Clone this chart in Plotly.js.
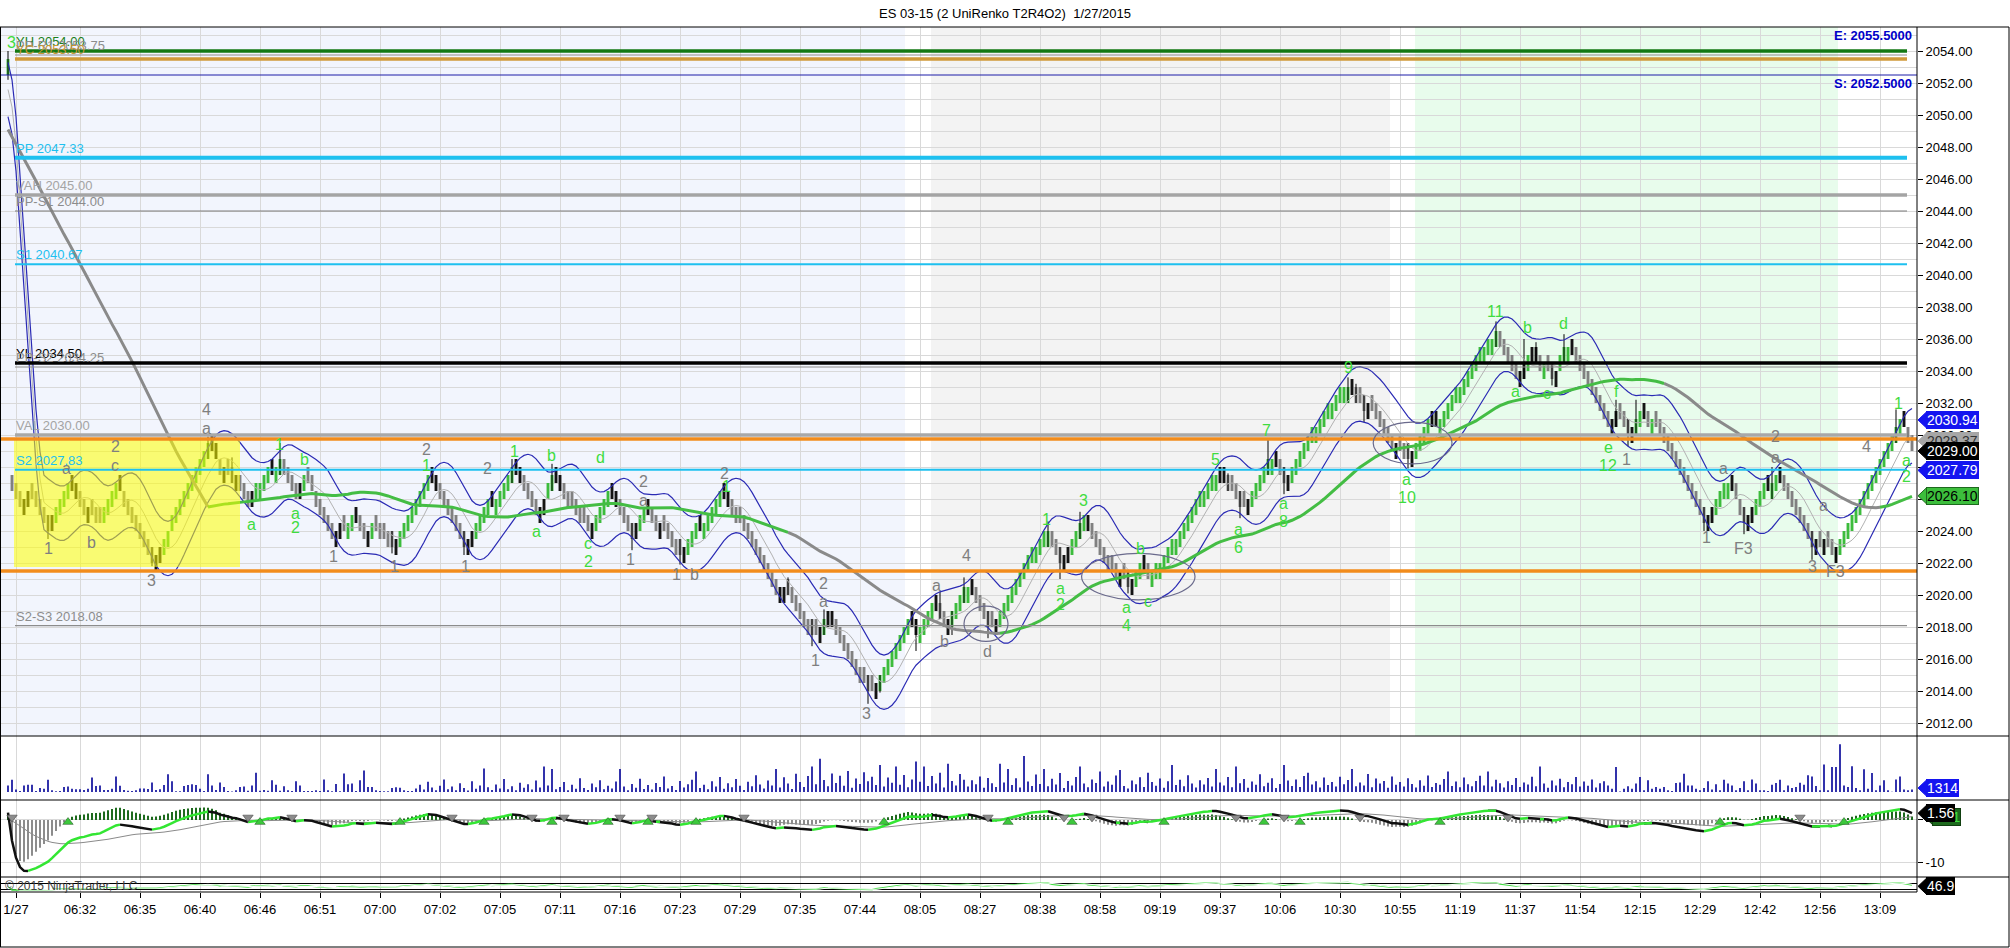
<!DOCTYPE html>
<html>
<head>
<meta charset="utf-8">
<script src="https://cdn.plot.ly/plotly-3.0.1.min.js"></script>
<style>
  html, body { margin: 0; padding: 0; background: #fff; }
  #chart { width: 2010px; height: 948px; }
</style>
</head>
<body>
<div id="chart"></div>
<script>
// ---------------- data ----------------
// UniRenko closes, one per bar (bar 0 = last bar of the prior session)
const closes = [
  2053.5,
  2026.5, 2026, 2025.5, 2026, 2026.5, 2026, 2025.5,
  2025, 2024.5, 2024,
  2025, 2025.5, 2026, 2026.5, 2027,
  2026.5, 2026, 2025.5, 2025, 2025.5, 2025, 2024.5, 2024.5,
  2025.5, 2026, 2026.5, 2027,
  2026.5, 2025.5, 2025, 2024.5, 2024, 2023.5, 2023, 2022.5, 2022,
  2022.5, 2023, 2023.5, 2024, 2025, 2025.5, 2026, 2026.5, 2027, 2027.5, 2028, 2028.5, 2029, 2029.5,
  2029, 2028.5, 2027.5, 2028, 2027.5, 2027, 2027.5, 2026.5,
  2026, 2025.5, 2026.5, 2027, 2027, 2027.5, 2028, 2027.5, 2028, 2028.5, 2027.5, 2027, 2026.5, 2026, 2027, 2027.5,
  2027, 2026.5, 2025.5, 2025, 2024.5, 2024, 2023.5,
  2024, 2024.5, 2024, 2024.5, 2025, 2024.5, 2024, 2023.5, 2024, 2024.5, 2024, 2023.5, 2023.5, 2023, 2023,
  2023.5, 2024, 2024.5, 2025, 2025.5, 2026, 2026.5, 2027, 2027.5,
  2027, 2026.5, 2026, 2025.5, 2025, 2024.5, 2024, 2023.5, 2023,
  2023.5, 2024, 2024.5, 2025, 2025.5, 2026,
  2025.5, 2026, 2026.5, 2027, 2027.5, 2028,
  2027.5, 2027, 2026.5, 2026, 2025.5, 2025,
  2025.5, 2026, 2027, 2027.5,
  2027, 2026.5, 2026, 2025.5, 2025.5, 2025, 2024.5,
  2024.5, 2024, 2024.5, 2025, 2025.5, 2026, 2026.5,
  2026, 2025.5, 2025, 2024.5, 2024, 2023.5,
  2024.5, 2025, 2025.5,
  2025, 2024.5, 2024, 2024.5, 2024, 2023.5, 2023, 2022.5, 2022.5,
  2023, 2023.5, 2024, 2024.5, 2024, 2024.5, 2025, 2025.5, 2026, 2026.5, 2026,
  2025.5, 2025, 2024.5, 2024.5, 2024, 2023.5, 2023, 2022.5, 2022, 2021.5, 2021, 2020.5, 2020,
  2020.5, 2020.5, 2020, 2019.5,
  2019, 2018.5, 2018, 2017.5, 2017.5, 2017.5,
  2018, 2018.5, 2018, 2018,
  2017.5, 2017, 2016.5, 2016, 2015.5, 2015, 2014.5, 2014.5, 2014,
  2014,
  2014.5, 2015, 2015.5, 2016, 2016.5, 2017,
  2017.5, 2018, 2018.5, 2018, 2017.5, 2018,
  2018.5, 2019, 2019.5,
  2019, 2018.5, 2018,
  2018.5, 2019, 2019.5, 2020, 2020.5, 2020.5,
  2020, 2019.5, 2019, 2018.5, 2018, 2018,
  2018.5, 2019, 2019.5, 2020, 2020.5, 2021, 2021.5,
  2022, 2022.5, 2023, 2023, 2023.5, 2024, 2024,
  2023, 2022.5, 2022,
  2022.5, 2023, 2023.5, 2024, 2024.5, 2025,
  2024, 2023.5, 2023, 2022.5,
  2022, 2021.5, 2021.5, 2021, 2021.5, 2021, 2020.5, 2021, 2021.5, 2022, 2021.5, 2021, 2021.5, 2022, 2022,
  2022.5, 2023, 2023.5, 2023.5, 2024, 2024.5, 2025, 2025.5, 2026, 2026.5, 2026.5, 2027, 2027.5, 2027.5,
  2027, 2027, 2026.5, 2026.5,
  2026, 2025.5, 2025.5,
  2026, 2026.5, 2027, 2027.5, 2028, 2028.5, 2028.5,
  2028, 2027.5, 2027, 2027.5,
  2028, 2028.5, 2029, 2029.5, 2030, 2030.5, 2030.5, 2031, 2031.5, 2032, 2032, 2032.5, 2033, 2033, 2033,
  2032.5, 2032, 2032, 2031.5, 2032, 2031.5,
  2031, 2030.5, 2030, 2029.5, 2029,
  2029.5, 2029, 2028.5, 2028.5, 2029, 2029.5,
  2030, 2030.5, 2031, 2030.5, 2030.5, 2031,
  2031.5, 2032, 2032.5, 2033, 2033, 2033.5, 2034, 2034.5, 2035, 2035.5, 2035.5, 2036, 2036, 2036.5,
  2035.5, 2035,
  2034.5, 2034, 2033.5, 2034, 2034.5, 2035, 2034.5, 2034.5, 2034, 2034.5, 2034, 2033.5, 2034,
  2035, 2035.5, 2035.5, 2035,
  2034.5, 2034,
  2033.5, 2033, 2032.5, 2032, 2031.5, 2031, 2030.5,
  2031, 2031.5, 2031, 2030.5, 2030, 2030.5, 2031, 2031.5, 2031, 2030.5, 2031, 2030.5, 2030,
  2029.5, 2029, 2028.5, 2028, 2027.5, 2027, 2026.5, 2026, 2025.5, 2025, 2024.5,
  2025, 2025.5, 2026, 2026.5, 2027, 2027,
  2026.5, 2026, 2025, 2024.5,
  2025, 2025.5, 2026,
  2026.5, 2027, 2026.5, 2027, 2027.5,
  2027, 2026.5, 2026, 2025.5, 2025, 2024.5, 2024, 2023.5, 2023,
  2023.5, 2023, 2023.5, 2023, 2022.5, 2023,
  2023.5, 2024, 2024.5,
  2025, 2025.5, 2026, 2026.5, 2027, 2027.5, 2028, 2028.5, 2029, 2029.5, 2030, 2030.5, 2031,
  2030.5, 2029.5, 2029
];

// wicks that stick out of the bodies (bar index, high, low)
const wickBars  = [0, 10, 36, 50, 56, 68, 96, 114, 126, 136, 156, 168, 195, 201, 204, 215, 218, 227, 233, 236, 239, 245, 260, 263, 268, 280, 305, 308, 315, 319, 335, 337, 339, 350, 356, 372, 379, 382, 386, 389, 402, 405, 407, 424, 434, 441, 451, 457, 472];
const wickHighs = [2054, null, null, 2029.9, 2028.6, 2029.5, null, null, 2028.5, 2028.2, null, null, 2021.1, null, 2019.1, null, null, null, 2020.2, null, 2021.1, null, 2024.6, null, 2025.2, null, 2027.6, null, 2029.7, null, 2033.6, 2033.2, null, null, 2031.5, 2037.1, 2036.0, 2035.8, null, 2036.3, 2032.2, null, 2032.2, null, null, 2028.0, null, null, 2031.6];
const wickLows  = [2052.2, 2023.5, 2021.8, null, null, null, 2022.6, 2022.5, null, null, 2022.8, 2021.9, null, 2016.8, null, 2013.2, 2013.9, 2016.5, null, 2017.5, null, 2017.3, null, 2021.0, null, 2020.1, null, 2024.8, null, 2026.3, null, null, 2030.8, 2027.9, null, null, null, null, 2033.1, null, null, 2029.3, null, 2024.0, 2023.8, null, 2022.2, 2022.0, null];

// volume per bar
const volume = [
  2200, 4100, 800, 350, 2200, 2400, 2400, 300, 1300, 1100,
  4100, 550, 250, 300, 1700, 1800, 1100, 900, 900, 650,
  1100, 4800, 2000, 2200, 650, 650, 1100, 5200, 2100, 650,
  450, 350, 550, 1200, 1200, 1000, 3200, 650, 900, 2300,
  5900, 3600, 250, 250, 2000, 2300, 2550, 2300, 1100, 350,
  5900, 2200, 650, 3200, 1700, 350, 150, 550, 1700, 1800,
  450, 2200, 6400, 450, 650, 450, 3900, 2400, 450, 1900,
  550, 350, 3600, 2200, 350, 350, 350, 550, 350, 4200,
  550, 250, 2650, 250, 6200, 2550, 2800, 350, 3900, 7200,
  1700, 1700, 550, 350, 250, 250, 1300, 1550, 1450, 550,
  350,
  300, 1200, 2400, 800, 3400, 1500, 600, 2100, 4200, 900,
  1800, 600, 2900, 1300, 500, 3600, 1100, 2200, 7800, 1600,
  700, 2500, 1200, 4300, 900, 1900, 600, 3100, 1400, 2600,
  800, 3800, 1500, 8500, 2200, 7700, 900, 1700, 3300, 600,
  2400, 1100, 4600, 1300, 700, 2800, 1600, 3900, 900, 2100,
  1200, 3500, 7700, 1800, 600, 2700, 1400, 4400, 1000, 2300,
  800, 3000, 1700, 5200, 1200, 2000, 700, 3700, 1500, 2600,
  4100, 6800, 1300, 2400, 900, 3600, 1800, 5000, 1100, 2900,
  1600, 4300, 2100, 700, 3400, 1900, 5600, 2500, 1200, 3800,
  2200, 7700, 1500, 4900, 2800, 1000, 6100, 3300, 1700, 5300,
  8500, 2600, 11100, 4000, 1900, 6200, 3000, 5400, 2100, 7000,
  1400, 4500, 2700, 6600, 3600, 5100, 2300, 9000, 1800, 4800,
  3100, 8500, 2400, 5700, 1600, 4200, 10200, 3400, 8500, 2000,
  5300, 2800, 6400, 1500, 9400, 3700, 2200, 6000, 4100, 1800,
  3900, 2600, 5200, 1400, 4700, 2900, 1700, 9400, 3200, 7700,
  2300, 4600, 1500, 12000, 3500, 2000, 5800, 2700, 7700, 1900,
  4400, 2500, 6300, 1300, 3700, 2200, 5000, 8500, 2800, 1600,
  4200, 3000, 6800, 1800, 3500, 2400, 5500, 7300, 2000, 1200,
  3800, 2600, 4900, 1700, 6400, 3300, 2100, 4500, 1400, 3600,
  9000, 2300, 4100, 1900, 5600, 2800, 1500, 3900, 2500, 4700,
  1800, 7700, 3200, 2200, 5000, 1600, 8500, 2900, 4300, 1400,
  3500, 2400, 5900, 1900, 3100, 4600, 1300, 2700, 9000, 3800,
  2000, 4200, 1700, 5300, 6400, 2500, 3600, 1500, 4800, 2300,
  3300, 1800, 5100, 2600, 4000, 7700, 1900, 3200, 2200, 6000,
  1600, 4500, 2800, 3700, 1400, 5200, 2400, 3300, 1800, 4600,
  2700, 1500, 3900, 2100, 5500, 1700, 3000, 2400, 4300, 6800,
  2000, 3500, 1600, 4800, 2600, 1900, 3700, 5400, 2200, 6800,
  1800, 4100, 2900, 1500, 3600, 2300, 4700, 1700, 3200, 2500,
  5100, 1900, 8500, 2800, 1400, 3800, 2200, 4400, 1600, 3300,
  2600, 5000, 1800, 3500, 2100, 4200, 1500, 2900,
  3550, 2200, 1100, 8300, 200, 1100, 1900, 1100, 2800, 5000,
  550, 3900, 1100, 1650, 1100, 1650, 550, 350, 3000, 3200,
  6100, 2200, 2200, 1100, 550, 1350, 3550, 800, 2550, 550,
  4100, 2800, 2200, 550, 1350, 3550, 550, 4200, 2800, 550,
  550, 350, 2450, 3000, 4100, 550, 2200, 1350, 1650, 3100,
  2450, 5550, 5200, 2000, 550, 9200, 550, 8300, 8300, 15900,
  2200, 1650, 8550, 1350, 550, 7550, 1100, 6300, 550, 2200,
  3900, 550, 100, 4200, 5200, 800, 550, 800
];

const tickLabels = ["1/27", "06:32", "06:35", "06:40", "06:46", "06:51", "07:00", "07:02", "07:05",
  "07:11", "07:16", "07:23", "07:29", "07:35", "07:44", "08:05", "08:27", "08:38", "08:58", "09:19",
  "09:37", "10:06", "10:30", "10:55", "11:19", "11:37", "11:54", "12:15", "12:29", "12:42", "12:56", "13:09"];

// horizontal levels drawn on the price panel
const levelValues = [2054.00, 2053.75, 2053.50, 2052.50, 2047.33, 2045.00, 2044.00, 2040.67, 2034.50, 2034.25, 2030.00, 2029.75, 2027.83, 2021.50, 2018.08];
const levelNames  = ["YH", "PP-R1", "YC", "", "PP", "VAH", "PP-S1", "S1", "YL", "PP-S2", "VAL", "", "S2", "", "S2-S3"];

// wave count labels (bar index, price, text, colour group)
const waveBars   = [0.75, 10.1, 14.7, 20.9, 26.75, 26.75, 35.9, 49.7, 49.7, 60.9, 67.9, 71.75, 71.75, 74, 81.3, 96.7, 104.7, 104.7, 114.3, 119.8, 126.5, 132, 135.8, 145, 145, 148, 155.7, 158.9, 158.9, 167, 171.5, 179, 179.6, 201.75, 203.8, 203.8, 214.7, 232, 234, 239.7, 244.8, 259.7, 263, 263, 268.8, 279.7, 279.7, 283, 285, 301.75, 307.6, 307.6, 314.7, 318.8, 318.8, 335, 349.7, 349.7, 371.9, 379.8, 376.75, 384.7, 388.8, 402.2, 400, 400, 404.7, 424.7, 428.8, 433.8, 441.75, 441.75, 451, 453.8, 456.75, 464.7, 472.6, 474.7, 474.7];
const wavePrices = [2054.55, 2022.9, 2027.9, 2023.3, 2029.3, 2028.1, 2020.9, 2031.6, 2030.4, 2024.4, 2029.4, 2025.1, 2024.2, 2028.5, 2022.4, 2021.8, 2029.1, 2028.1, 2021.8, 2027.9, 2029.0, 2024.0, 2028.75, 2023.2, 2022.1, 2028.6, 2022.25, 2027.1, 2025.9, 2021.3, 2021.3, 2027.6, 2026.8, 2015.9, 2020.7, 2019.6, 2012.6, 2020.6, 2017.1, 2022.5, 2016.5, 2024.7, 2020.4, 2019.4, 2025.9, 2019.2, 2018.1, 2022.9, 2019.6, 2028.5, 2024.1, 2023.0, 2030.3, 2025.7, 2024.6, 2034.2, 2027.2, 2026.1, 2037.7, 2036.7, 2032.7, 2032.6, 2037.0, 2032.7, 2029.2, 2028.1, 2028.5, 2023.6, 2027.9, 2022.9, 2029.9, 2028.6, 2021.8, 2025.6, 2021.5, 2029.3, 2032.0, 2028.4, 2027.4];
const waveTexts  = ["3", "1", "a", "b", "2", "c", "3", "4", "a", "a", "1", "a", "2", "b", "1", "1", "2", "1", "1", "2", "1", "a", "b", "c", "2", "d", "1", "2", "a", "1", "b", "2", "1", "1", "2", "a", "3", "a", "b", "4", "d", "1", "a", "2", "3", "a", "4", "b", "c", "5", "a", "6", "7", "a", "8", "9", "a", "10", "11", "b", "a", "c", "d", "f", "e", "12", "1", "1", "a", "F3", "2", "a", "3", "a", "F3", "4", "1", "a", "2"];
const waveGroups = ["g", "s", "s", "s", "s", "s", "s", "s", "s", "g", "g", "g", "g", "g", "s", "s", "s", "g", "s", "s", "g", "g", "g", "g", "g", "g", "s", "s", "s", "s", "s", "s", "g", "s", "s", "s", "s", "s", "s", "s", "s", "g", "g", "g", "g", "g", "g", "g", "g", "g", "g", "g", "g", "g", "g", "g", "g", "g", "g", "g", "g", "g", "g", "g", "g", "g", "s", "s", "s", "s", "s", "s", "s", "s", "s", "s", "g", "g", "g"];

// hand-drawn ellipses (bar range, price range)
const ellipseBars   = [[239, 250], [268.4, 296.75], [341.3, 361]];
const ellipsePrices = [[2017.1, 2019.3], [2019.7, 2022.6], [2028.2, 2030.8]];

// session shading (bar ranges)
const sessionStarts = [-1.75, 230.75, 351.75];
const sessionEnds   = [224.25, 345.5, 457.5];
const boxBars = [1.5, 58];          // yellow opening-range box
const boxPrices = [2021.75, 2029.75];

// indicator settings / readings
const bbPeriod = 7, bbSmooth = 3, bbSeed = 2051.5, bbOffset = 1.7;
const maPeriod = 50, maSeed = 2049.0;
const macdFast = 5, macdSlow = 20, macdSignal = 30, macdStartValue = 1.9;
const rsiPeriod = 14;

// value tags on the right-hand scale
const priceTagValues = [2030.94, 2029.62, 2029.0, 2027.79, 2026.2];
const priceTagTexts  = ["2030.94", "2029.37", "2029.00", "2027.79", "2026.10"];

// ---------------- geometry & styling ----------------
const FONT = "Liberation Sans, Arial, sans-serif";
const W = 2010, H = 948;
const M = {l: 1, r: 93, t: 27, b: 56};
const plotW = W - M.l - M.r, plotH = H - M.t - M.b;
const px = x => (x - M.l) / plotW;
const py = y => (H - M.b - y) / plotH;

const dMain = [py(736), 1], dVol = [py(800), py(736)], dMacd = [py(877), py(800)], dOsc = [0, py(877)];
const rMain = [2011.1875, 2055.5], rVol = [-2667, 18667], rMacd = [-13.35, 4.68], rOsc = [-10, 140];
const xRange = [-1.75, 477.25];

const GREEN_BAR = "#3cbc3c", GRAY_BAR = "#808080", BLACK_BAR = "#141414";
const WAVE_GREEN = "#3fdc3f", WAVE_GRAY = "#7f7f7f";
const levelColors = ["#137813", "#8c8c8c", "#d09a3a", "#1c1ca8", "#1ec0ef", "#a4a4a4", "#7c7c7c", "#1ec0ef", "#000000", "#8c8c8c", "#a8a8a8", "#f28c1c", "#1ec0ef", "#f28c1c", "#8c8c8c"];
const levelWidths = [3.5, 1, 3.5, 1, 4, 3.5, 1.2, 2, 3.5, 1, 3.5, 3.5, 2, 3.5, 1.2];
const levelTextColors = ["#1b7f1b", "#8c8c8c", "#c89632", "", "#1ec0ef", "#a4a4a4", "#8c8c8c", "#1ec0ef", "#000000", "#8c8c8c", "#a4a4a4", "", "#1ec0ef", "", "#8c8c8c"];
const sessionColors = ["#f2f5fd", "#f3f3f3", "#e8fcec"];

// ---------------- indicator helpers ----------------
function sma(vals, n, seed) {
  return vals.map((v, i) => {
    let s = 0;
    for (let j = i - n + 1; j <= i; j++) s += j < 0 ? seed : vals[j];
    return s / n;
  });
}
function ema(vals, n, seed) {
  const a = 2 / (n + 1);
  let e = seed;
  return vals.map(v => (e = e + a * (v - e)));
}
function rsi(vals, n) {
  let ag = 0.25, al = 0.25;
  return vals.map((v, i) => {
    if (i > 0) {
      const d = v - vals[i - 1];
      ag = (ag * (n - 1) + Math.max(d, 0)) / n;
      al = (al * (n - 1) + Math.max(-d, 0)) / n;
    }
    return 100 - 100 / (1 + ag / al);
  });
}
// splits a line into rising / falling pieces; a turn needs a slope past the threshold
function splitBySlope(vals, upEps, dnEps) {
  const up = vals.map(() => null), dn = vals.map(() => null);
  let state = -1;
  for (let i = 1; i < vals.length; i++) {
    const d = vals[i] - vals[i - 1];
    if (d > upEps) state = 1; else if (d < -dnEps) state = -1;
    const t = state > 0 ? up : dn;
    t[i - 1] = vals[i - 1]; t[i] = vals[i];
  }
  return {up, dn};
}

const N = closes.length;
const idx = closes.map((_, i) => i);

// renko bodies
const dir = [];
closes.forEach((c, i) => {
  const d = i === 0 ? 1 : Math.sign(c - closes[i - 1]);
  dir.push(d === 0 ? dir[i - 1] : d);
});
const bodyLo = closes.map((c, i) => dir[i] > 0 ? c - 1 : c);
const bodyHi = closes.map((c, i) => dir[i] > 0 ? c : c + 1);

const mid = sma(sma(closes, bbPeriod, bbSeed), bbSmooth, bbSeed);
const upper = mid.map(v => v + bbOffset);
const lower = mid.map(v => v - bbOffset);
const ma = sma(closes, maPeriod, maSeed);
const maSeg = splitBySlope(ma, 0.02, 0.1);

const barColors = closes.map((c, i) => {
  if (i === 0) return GREEN_BAR;
  if (dir[i] > 0) return c >= mid[i] ? GREEN_BAR : BLACK_BAR;
  return c <= mid[i] ? GRAY_BAR : BLACK_BAR;
});

const fastE = ema(closes, macdFast, closes[0]);
const slowE = ema(closes, macdSlow, closes[0] - macdStartValue);
const macd = fastE.map((v, i) => v - slowE[i]);
const signal = ema(macd, macdSignal, 0);
const hist = macd.map((v, i) => v - signal[i]);
const macdSeg = splitBySlope(macd, 0, 0);

const upTriX = [], dnTriX = [];
for (let i = 1; i < N; i++) {
  if (hist[i] > 0 && hist[i - 1] <= 0) upTriX.push(i);
  if (hist[i] < 0 && hist[i - 1] >= 0) dnTriX.push(i);
}

const osc = rsi(closes, rsiPeriod);
const oscAvg = sma(osc, 3, 50);

// wick segments
const wx = [], wy = [];
wickBars.forEach((b, k) => {
  const hi = wickHighs[k] != null ? Math.max(wickHighs[k], bodyHi[b]) : bodyHi[b];
  const lo = wickLows[k] != null ? Math.min(wickLows[k], bodyLo[b]) : bodyLo[b];
  wx.push(b, b, null); wy.push(lo, hi, null);
});

// ---------------- traces ----------------
const traces = [
  {x: wx, y: wy, type: "scatter", mode: "lines", line: {color: "#000", width: 1}, xaxis: "x", yaxis: "y"},
  {x: idx, y: bodyHi.map((h, i) => h - bodyLo[i]), base: bodyLo, type: "bar", width: 0.72,
   marker: {color: barColors, line: {width: 0}}, xaxis: "x", yaxis: "y"},
  {x: idx, y: mid, type: "scatter", mode: "lines", line: {color: "#b2b2b2", width: 1}, yaxis: "y"},
  {x: idx, y: upper, type: "scatter", mode: "lines", line: {color: "#2a2ab4", width: 1.2}, yaxis: "y"},
  {x: idx, y: lower, type: "scatter", mode: "lines", line: {color: "#2a2ab4", width: 1.2}, yaxis: "y"},
  {x: idx, y: maSeg.dn, type: "scatter", mode: "lines", line: {color: "#8a8a8a", width: 3}, yaxis: "y"},
  {x: idx, y: maSeg.up, type: "scatter", mode: "lines", line: {color: "#44bd44", width: 3}, yaxis: "y"},

  {x: idx, y: volume, type: "bar", width: 0.45, marker: {color: "#1c1ca2", line: {width: 0}}, yaxis: "y2"},

  {x: idx, y: hist, type: "bar", width: 0.5,
   marker: {color: hist.map(v => v >= 0 ? "#1d6a1d" : "#8c8c8c"), line: {width: 0}}, yaxis: "y3"},
  {x: idx, y: signal, type: "scatter", mode: "lines", line: {color: "#8a8a8a", width: 1}, yaxis: "y3"},
  {x: idx, y: macdSeg.dn, type: "scatter", mode: "lines", line: {color: "#101010", width: 2.5}, yaxis: "y3"},
  {x: idx, y: macdSeg.up, type: "scatter", mode: "lines", line: {color: "#33e633", width: 2.5}, yaxis: "y3"},
  {x: upTriX, y: upTriX.map(() => -0.5), type: "scatter", mode: "markers", yaxis: "y3",
   marker: {symbol: "triangle-up", size: 9, color: "#3cc83c", line: {color: "#2f5f2f", width: 0.6}}},
  {x: dnTriX, y: dnTriX.map(() => 0.6), type: "scatter", mode: "markers", yaxis: "y3",
   marker: {symbol: "triangle-down", size: 9, color: "#8c8c8c", line: {color: "#444", width: 0.6}}},

  {x: idx, y: osc, type: "scatter", mode: "lines", line: {color: "#3fdc3f", width: 1.4}, yaxis: "y4"},
  {x: idx, y: oscAvg, type: "scatter", mode: "lines", line: {color: "#ffffff", width: 1}, yaxis: "y4"}
];

// ---------------- shapes & annotations ----------------
const shapes = [];
const annotations = [];

sessionStarts.forEach((s, k) => shapes.push({
  type: "rect", xref: "x", yref: "y domain", x0: s, x1: sessionEnds[k], y0: 0, y1: 1,
  fillcolor: sessionColors[k], line: {width: 0}, layer: "below"
}));

shapes.push({type: "rect", xref: "x", yref: "y", x0: boxBars[0], x1: boxBars[1], y0: boxPrices[0], y1: boxPrices[1],
  fillcolor: "rgba(255,255,0,0.55)", line: {width: 0}, layer: "above"});

levelValues.forEach((v, k) => {
  const full = levelNames[k] === "";
  shapes.push({type: "line", xref: "x", yref: "y", x0: full ? xRange[0] : 1.75, x1: full ? xRange[1] : 474.75,
    y0: v, y1: v, line: {color: levelColors[k], width: levelWidths[k]}, layer: "above"});
  if (!full) annotations.push({xref: "x", yref: "y", x: 1.5, y: v, xanchor: "left", yanchor: "bottom",
    text: levelNames[k] + " " + v.toFixed(2), showarrow: false,
    font: {family: FONT, size: 13, color: levelTextColors[k]}});
});

ellipseBars.forEach((b, k) => shapes.push({type: "circle", xref: "x", yref: "y",
  x0: b[0], x1: b[1], y0: ellipsePrices[k][0], y1: ellipsePrices[k][1],
  line: {color: "#6a6a8c", width: 1.2}, layer: "above"}));

waveBars.forEach((b, k) => annotations.push({xref: "x", yref: "y", x: b, y: wavePrices[k],
  text: waveTexts[k], showarrow: false, xanchor: "center", yanchor: "middle",
  font: {family: FONT, size: 16, color: waveGroups[k] === "g" ? WAVE_GREEN : WAVE_GRAY}}));

annotations.push({xref: "paper", yref: "y", x: px(1914), y: 2055.0, xanchor: "right", yanchor: "middle",
  text: "<b>E: 2055.5000</b>", showarrow: false, font: {family: FONT, size: 13, color: "#0000c8"}});
annotations.push({xref: "paper", yref: "y", x: px(1914), y: 2052.0, xanchor: "right", yanchor: "middle",
  text: "<b>S: 2052.5000</b>", showarrow: false, font: {family: FONT, size: 13, color: "#0000c8"}});

// borders of the panels
const line = (x0, y0, x1, y1) => shapes.push({type: "line", xref: "paper", yref: "paper",
  x0, y0, x1, y1, line: {color: "#000", width: 1}, layer: "above"});
line(px(0), 1, px(2009), 1);
line(px(0), py(736), px(2009), py(736));
line(px(0), py(800), px(2009), py(800));
line(px(0), py(877), px(2009), py(877));
line(px(0), 0, 1, 0);
line(px(0), py(947), px(2009), py(947));
line(px(0.5), py(947), px(0.5), 1);
line(px(2009), py(947), px(2009), 1);
line(1, 0, 1, 1);

// value tags on the right
function toPaper(dom, rng, v) { return dom[0] + (v - rng[0]) / (rng[1] - rng[0]) * (dom[1] - dom[0]); }
function tag(dom, rng, v, text, bg, fg, border, dx) {
  const y = toPaper(dom, rng, v), h = 8.5 / plotH, s = dx || 0;
  shapes.push({type: "path", xref: "paper", yref: "paper",
    path: `M ${px(1918 + s)},${y} L ${px(1927 + s)},${y + h} L ${px(1927 + s)},${y - h} Z`,
    fillcolor: bg, line: {color: border, width: 1}, layer: "above"});
  annotations.push({xref: "paper", yref: "paper", x: px(1926 + s), y, xanchor: "left", yanchor: "middle",
    text, showarrow: false, bgcolor: bg, bordercolor: border, borderwidth: 1, borderpad: 0,
    font: {family: FONT, size: 14, color: fg}});
}
tag(dMain, rMain, priceTagValues[0], priceTagTexts[0], "#1414f0", "#fff", "#1414f0");
tag(dMain, rMain, priceTagValues[1], priceTagTexts[1], "#a6a6a6", "#333", "#a6a6a6");
tag(dMain, rMain, priceTagValues[2], priceTagTexts[2], "#000", "#fff", "#000");
tag(dMain, rMain, priceTagValues[3], priceTagTexts[3], "#1414f0", "#fff", "#1414f0");
tag(dMain, rMain, priceTagValues[4], priceTagTexts[4], "#3cbe3c", "#000", "#1d6a1d");
tag(dVol, rVol, 1314, "1314", "#1414f0", "#fff", "#1414f0");
tag(dMacd, rMacd, 0.8, "1.21", "#1d6a1d", "#3fdc3f", "#0f3f0f", 6);
tag(dMacd, rMacd, 1.56, "1.56", "#000", "#fff", "#000");
tag(dOsc, rOsc, 46.9, "46.9", "#000", "#fff", "#000");

annotations.push({xref: "paper", yref: "paper", x: px(3), y: toPaper(dOsc, rOsc, 50), xanchor: "left", yanchor: "middle",
  text: "© 2015 NinjaTrader, LLC", showarrow: false, font: {family: FONT, size: 12, color: "#404040"}});

// ---------------- layout ----------------
const tickBars = tickLabels.map((t, k) => k === 0 ? 2 : 18 + 15 * (k - 1));
const tickFont = {family: FONT, size: 13, color: "#000"};

const layout = {
  width: W, height: H,
  margin: M,
  paper_bgcolor: "#fff", plot_bgcolor: "#fff",
  showlegend: false, hovermode: false, barmode: "overlay",
  title: {text: "ES 03-15 (2 UniRenko T2R4O2)  1/27/2015", x: 0.5, xref: "container",
    y: 1 - 13 / H, yref: "container", yanchor: "middle", font: {family: FONT, size: 13, color: "#000"}},
  xaxis: {range: xRange, anchor: "y4", tickmode: "array", tickvals: tickBars, ticktext: tickLabels,
    ticks: "outside", ticklen: 5, tickcolor: "#000", tickfont: tickFont,
    showgrid: true, gridcolor: "#d9d9d9", zeroline: false, showline: false, fixedrange: true},
  yaxis: {domain: dMain, range: rMain, side: "right", anchor: "x",
    tickmode: "linear", tick0: 2012, dtick: 2, tickformat: ".2f",
    ticks: "outside", ticklen: 5, tickcolor: "#000", tickfont: tickFont,
    showgrid: true, gridcolor: "#d9d9d9",
    minor: {tick0: 2011, dtick: 1, showgrid: true, gridcolor: "#d9d9d9", ticks: ""},
    zeroline: false, showline: false, fixedrange: true},
  yaxis2: {domain: dVol, range: rVol, anchor: "x", showticklabels: false, showgrid: false,
    zeroline: false, ticks: "", fixedrange: true},
  yaxis3: {domain: dMacd, range: rMacd, side: "right", anchor: "x", tickmode: "array",
    tickvals: [-10, 0], ticktext: ["-10", ""], ticks: "outside", ticklen: 5, tickcolor: "#000",
    tickfont: tickFont, showgrid: true, gridcolor: "#d9d9d9", zeroline: false, fixedrange: true},
  yaxis4: {domain: dOsc, range: rOsc, anchor: "x", showticklabels: false, tickvals: [20, 80],
    showgrid: true, gridcolor: "#000", zeroline: false, ticks: "", fixedrange: true},
  shapes: shapes,
  annotations: annotations
};

Plotly.newPlot("chart", traces, layout, {staticPlot: true, displayModeBar: false});
</script>
</body>
</html>
